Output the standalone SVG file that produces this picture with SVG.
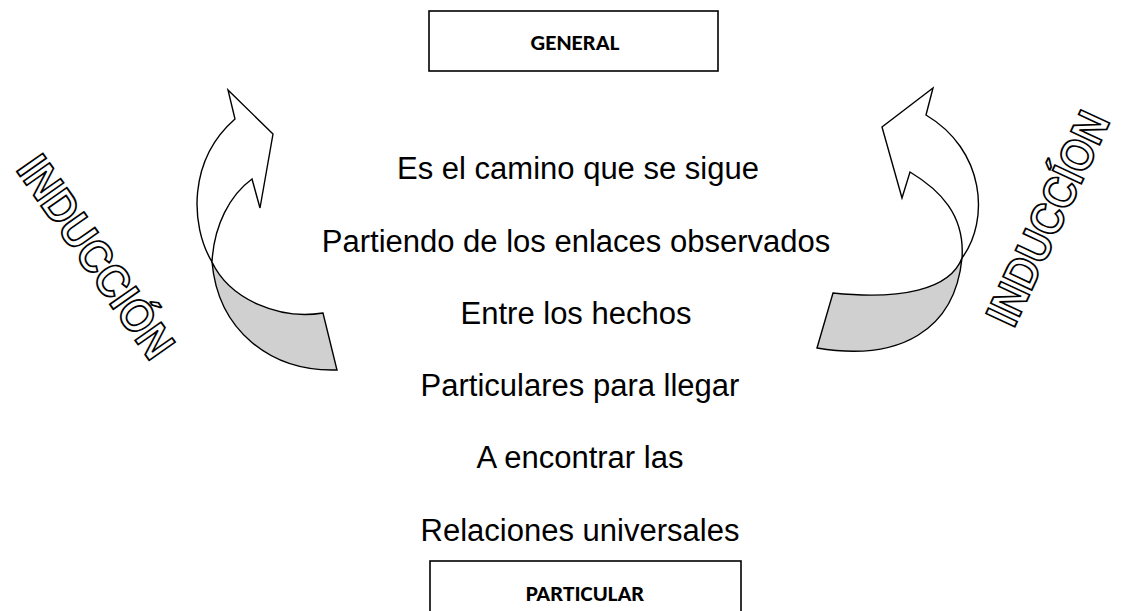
<svg xmlns="http://www.w3.org/2000/svg" width="1125" height="611" viewBox="0 0 1125 611">
<style>
.box{fill:#fff;stroke:#000;stroke-width:1.6}
.lbl{font-family:Carlito,Lato,"Liberation Sans",sans-serif;font-weight:bold;font-size:23px;fill:#000;text-anchor:middle}
.body{font-family:"Liberation Sans",Arial,sans-serif;font-size:31px;fill:#000;text-anchor:middle}
.front{fill:#fff;stroke:#000;stroke-width:1.4;stroke-linejoin:miter}
.back{fill:#d0d0d0;stroke:#000;stroke-width:1.4}
.wa{font-family:"Liberation Sans",Arial,sans-serif;font-weight:bold;font-size:46px;fill:#fff;stroke:#000;stroke-width:1.8;text-anchor:middle}
</style>
<rect width="1125" height="611" fill="#fff"/>
<g id="general">
<rect class="box" x="429" y="11" width="289" height="60"/>
<text class="lbl" x="575" y="50">GENERAL</text>
</g>
<g id="particular">
<rect class="box" x="430" y="561" width="311" height="60"/>
<text class="lbl" x="585" y="601">PARTICULAR</text>
</g>
<g id="description">
<text class="body" x="578" y="179">Es el camino que se sigue</text>
<text class="body" x="576" y="252">Partiendo de los enlaces observados</text>
<text class="body" x="576" y="324">Entre los hechos</text>
<text class="body" x="580" y="396">Particulares para llegar</text>
<text class="body" x="580" y="468">A encontrar las</text>
<text class="body" x="580" y="541">Relaciones universales</text>
</g>
<g id="connectors">
<g id="arrow-left">
<path class="back" d="M212,262 C230,300 280,320 323,313 L337,370 C270,372 218,330 212,262 Z"/>
<path class="front" d="M212,262 C190,225 188,160 235,119 L228,90 L273,134 L260,208 L252,179 C230,195 214,225 212,262 Z"/>
</g>
<g id="arrow-right">
<path class="back" d="M962,258 C950,290 900,300 833,293 L817,348 C900,362 955,330 962,258 Z"/>
<path class="front" d="M962,258 C990,220 985,150 926,115 L933,88 L882,127 L902,198 L910,172 C940,190 965,215 962,258 Z"/>
</g>
</g>
<g id="induccion-left">
<text class="wa" transform="translate(83,266) rotate(55) scale(0.906,1)" x="0" y="0">INDUCCIÓN</text>
</g>
<g id="induccion-right">
<text class="wa" transform="translate(1062,225) rotate(-65) scale(0.883,1)" x="0" y="0">INDUCCÍON</text>
</g>
</svg>
